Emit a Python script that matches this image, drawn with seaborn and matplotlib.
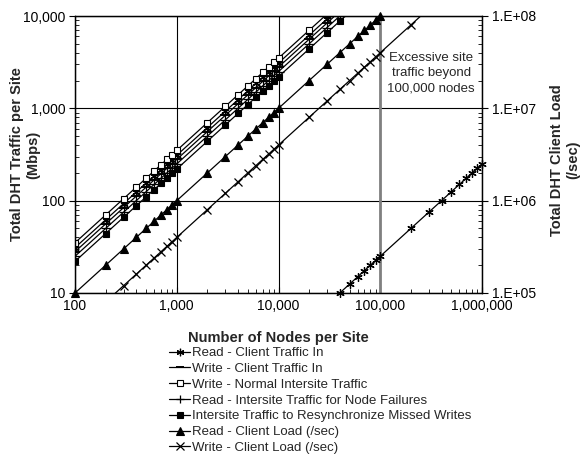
import matplotlib
matplotlib.use("Agg")
import matplotlib.pyplot as plt
import seaborn as sns
import pandas as pd
from matplotlib.ticker import FixedLocator, LogLocator, NullFormatter
from matplotlib.lines import Line2D

# ---------------- data ----------------
traffic_nodes = [100, 200, 300, 400, 500, 600, 700, 800, 900,
                 1000, 2000, 3000, 4000, 5000, 6000, 7000, 8000, 9000,
                 10000, 20000, 30000, 40000, 50000]
read_client_in = [31, 62, 93, 124, 155, 186, 217, 248, 279,
                  310, 620, 930, 1240, 1550, 1860, 2170, 2480, 2790,
                  3100, 6200, 9300, 12400, 15500]
write_client_in = [28, 56, 84, 112, 140, 168, 196, 224, 252,
                   280, 560, 840, 1120, 1400, 1680, 1960, 2240, 2520,
                   2800, 5600, 8400, 11200, 14000]
write_normal_intersite = [35, 70, 105, 140, 175, 210, 245, 280, 315,
                          350, 700, 1050, 1400, 1750, 2100, 2450, 2800, 3150,
                          3500, 7000, 10500, 14000, 17500]
read_intersite_failures = [25, 50, 75, 100, 125, 150, 175, 200, 225,
                           250, 500, 750, 1000, 1250, 1500, 1750, 2000, 2250,
                           2500, 5000, 7500, 10000, 12500]
resync_missed_writes = [22, 44, 66, 88, 110, 132, 154, 176, 198,
                        220, 440, 660, 880, 1100, 1320, 1540, 1760, 1980,
                        2200, 4400, 6600, 8800, 11000]

read_load_nodes = [100, 200, 300, 400, 500, 600, 700, 800, 900,
                   1000, 2000, 3000, 4000, 5000, 6000, 7000, 8000, 9000,
                   10000, 20000, 30000, 40000, 50000, 60000, 70000, 80000, 90000,
                   100000]
read_client_load = [1.0e5, 2.0e5, 3.0e5, 4.0e5, 5.0e5, 6.0e5, 7.0e5, 8.0e5, 9.0e5,
                    1.0e6, 2.0e6, 3.0e6, 4.0e6, 5.0e6, 6.0e6, 7.0e6, 8.0e6, 9.0e6,
                    1.0e7, 2.0e7, 3.0e7, 4.0e7, 5.0e7, 6.0e7, 7.0e7, 8.0e7, 9.0e7,
                    1.0e8]

write_load_nodes = [200, 300, 400, 500, 600, 700, 800, 900,
                    1000, 2000, 3000, 4000, 5000, 6000, 7000, 8000, 9000,
                    10000, 20000, 30000, 40000, 50000, 60000, 70000, 80000, 90000,
                    100000, 200000, 300000]
write_client_load = [8.0e4, 1.2e5, 1.6e5, 2.0e5, 2.4e5, 2.8e5, 3.2e5, 3.6e5,
                     4.0e5, 8.0e5, 1.2e6, 1.6e6, 2.0e6, 2.4e6, 2.8e6, 3.2e6, 3.6e6,
                     4.0e6, 8.0e6, 1.2e7, 1.6e7, 2.0e7, 2.4e7, 2.8e7, 3.2e7, 3.6e7,
                     4.0e7, 8.0e7, 1.2e8]

low_load_nodes = [40000, 50000, 60000, 70000, 80000, 90000,
                  100000, 200000, 300000, 400000, 500000, 600000, 700000,
                  800000, 900000, 1000000]
low_load = [1.0e5, 1.25e5, 1.5e5, 1.75e5, 2.0e5, 2.25e5,
            2.5e5, 5.0e5, 7.5e5, 1.0e6, 1.25e6, 1.5e6, 1.75e6,
            2.0e6, 2.25e6, 2.5e6]

x_ticks = [100, 1000, 10000, 100000, 1000000]
x_tick_labels = ["100", "1,000", "10,000", "100,000", "1,000,000"]
left_ticks = [10, 100, 1000, 10000]
left_tick_labels = ["10", "100", "1,000", "10,000"]
right_ticks = [1e5, 1e6, 1e7, 1e8]
right_tick_labels = ["1.E+05", "1.E+06", "1.E+07", "1.E+08"]

labels = ["Read - Client Traffic In",
          "Write - Client Traffic In",
          "Write - Normal Intersite Traffic",
          "Read - Intersite Traffic for Node Failures",
          "Intersite Traffic to Resynchronize Missed Writes",
          "Read - Client Load (/sec)",
          "Write - Client Load (/sec)"]

# ---------------- style ----------------
sns.set_style("white")
plt.rcParams['font.family'] = ['Liberation Sans', 'DejaVu Sans']

fig = plt.figure(figsize=(5.8, 4.63), dpi=100)
ax = fig.add_axes([75 / 580, 1 - 293 / 463, (482 - 75) / 580, (293 - 16) / 463])
ax2 = ax.twinx()

asterisk = (6, 2, 0)
ms = 5
common = dict(color="black", linewidth=0.9, estimator=None, sort=False)

traffic_df = pd.DataFrame({
    "nodes": traffic_nodes,
    labels[0]: read_client_in,
    labels[1]: write_client_in,
    labels[2]: write_normal_intersite,
    labels[3]: read_intersite_failures,
    labels[4]: resync_missed_writes,
})

styles = {
    labels[0]: dict(marker=asterisk, markersize=6, markeredgewidth=0.9,
                    markerfacecolor="black", markeredgecolor="black"),
    labels[1]: dict(marker="_", markersize=7, markeredgewidth=1.4,
                    markerfacecolor="black", markeredgecolor="black"),
    labels[2]: dict(marker="s", markersize=ms, markeredgewidth=0.8,
                    markerfacecolor="white", markeredgecolor="black"),
    labels[3]: dict(marker="+", markersize=7, markeredgewidth=0.9,
                    markerfacecolor="black", markeredgecolor="black"),
    labels[4]: dict(marker="s", markersize=ms, markeredgewidth=0.8,
                    markerfacecolor="black", markeredgecolor="black"),
    labels[5]: dict(marker="^", markersize=6, markeredgewidth=0.8,
                    markerfacecolor="black", markeredgecolor="black"),
    labels[6]: dict(marker="x", markersize=6, markeredgewidth=0.9,
                    markerfacecolor="black", markeredgecolor="black"),
}

for lab in labels[:5]:
    sns.lineplot(data=traffic_df, x="nodes", y=lab, ax=ax, label=lab,
                 **common, **styles[lab])

sns.lineplot(x=read_load_nodes, y=read_client_load, ax=ax2, label=labels[5],
             clip_on=False, **common, **styles[labels[5]])
sns.lineplot(x=write_load_nodes, y=write_client_load, ax=ax2, label=labels[6],
             **common, **styles[labels[6]])
sns.lineplot(x=low_load_nodes, y=low_load, ax=ax2, clip_on=False,
             **common, marker=asterisk, markersize=6, markeredgewidth=0.9,
             markeredgecolor="black")

for a in (ax, ax2):
    if a.get_legend() is not None:
        a.get_legend().remove()

# ---------------- axes ----------------
ax.set_xscale("log")
ax.set_yscale("log")
ax2.set_yscale("log")
ax.set_xlim(100, 1000000)
ax.set_ylim(10, 10000)
ax2.set_ylim(1e5, 1e8)

ax.xaxis.set_major_locator(FixedLocator(x_ticks))
ax.set_xticklabels(x_tick_labels)
ax.xaxis.set_minor_locator(LogLocator(base=10, subs=range(2, 10)))
ax.xaxis.set_minor_formatter(NullFormatter())
ax.yaxis.set_major_locator(FixedLocator(left_ticks))
ax.set_yticklabels(left_tick_labels)
ax.yaxis.set_minor_locator(LogLocator(base=10, subs=range(2, 10)))
ax.yaxis.set_minor_formatter(NullFormatter())
ax2.yaxis.set_major_locator(FixedLocator(right_ticks))
ax2.set_yticklabels(right_tick_labels)
ax2.yaxis.set_minor_locator(LogLocator(base=10, subs=range(2, 10)))
ax2.yaxis.set_minor_formatter(NullFormatter())

for a in (ax, ax2):
    a.tick_params(which="major", direction="out", length=4, width=0.8,
                  labelsize=10, colors="black", pad=3)
    a.tick_params(which="minor", direction="in", length=3, width=0.6,
                  colors="black")
    for s in a.spines.values():
        s.set_color("black")
        s.set_linewidth(0.9)
ax.tick_params(axis="x", which="major", direction="in", length=4, pad=4,
               bottom=True)
ax.tick_params(axis="x", which="minor", bottom=True)
ax.tick_params(axis="y", which="both", left=True)
ax2.tick_params(axis="y", which="both", right=True)

ax.grid(True, which="major", color="black", linewidth=0.8)
ax.grid(False, which="minor")
ax2.grid(False)
ax.set_axisbelow(True)
ax.axvline(100000, color="#808080", linewidth=2, zorder=1.5)

ax.set_xlabel("Number of Nodes per Site", fontsize=10.5, fontweight="bold",
              labelpad=13)
ax.set_ylabel("Total DHT Traffic per Site\n(Mbps)", fontsize=10.5,
              fontweight="bold")
ax.yaxis.set_label_coords(-0.086, 0.5)
ax2.set_ylabel("Total DHT Client Load\n(/sec)", fontsize=10.5,
               fontweight="bold", rotation=90)
ax2.yaxis.set_label_coords(1.168, 0.48)

ax.text(316000, 2400, "Excessive site\ntraffic beyond\n100,000 nodes",
        ha="center", va="center", fontsize=9.5, linespacing=1.35)

# ---------------- legend ----------------
handles = []
for lab in labels:
    st = styles[lab]
    handles.append(Line2D([], [], color="black", linewidth=0.9, label=lab, **st))
fig.legend(handles=handles, loc="upper left",
           bbox_to_anchor=(169 / 580, 1 - 347 / 463), frameon=False,
           fontsize=9.5, labelspacing=0.27, handlelength=1.6, handletextpad=0.15,
           borderpad=0, borderaxespad=0, markerscale=0.9)

fig.savefig("out.png", dpi=100)
